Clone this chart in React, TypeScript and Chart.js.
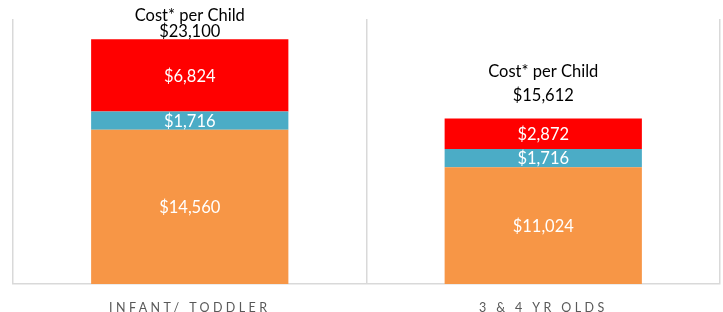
import React, { useEffect, useRef } from "react";
import { Chart, registerables } from "chart.js";

Chart.register(...registerables);

const categories = ["INFANT/ TODDLER", "3 & 4 YR OLDS"];
const baseCost = [14560, 11024];
const midCost = [1716, 1716];
const topCost = [6824, 2872];
const totalLabel = "Cost* per Child";
const yMax = 25000;

const fmt = (v: number) => "$" + v.toLocaleString("en-US");

const segmentLabels = {
  id: "segmentLabels",
  afterDatasetsDraw(chart: any) {
    const ctx = chart.ctx;
    ctx.save();
    ctx.letterSpacing = "0px";
    ctx.font = "16.5px Lato";
    ctx.fillStyle = "#ffffff";
    ctx.textAlign = "center";
    ctx.textBaseline = "middle";
    chart.data.datasets.forEach((ds: any, di: number) => {
      const meta = chart.getDatasetMeta(di);
      meta.data.forEach((el: any, i: number) => {
        const yc = (el.y + el.base) / 2;
        ctx.fillText(fmt(ds.data[i]), el.x, yc + 1);
      });
    });
    // totals above stacks
    const last = chart.getDatasetMeta(chart.data.datasets.length - 1);
    const offsets = [
      [-23, -7.5],
      [-46.5, -22.5],
    ];
    ctx.fillStyle = "#000000";
    last.data.forEach((el: any, i: number) => {
      let total = 0;
      chart.data.datasets.forEach((ds: any) => (total += ds.data[i]));
      ctx.fillText(totalLabel, el.x, el.y + offsets[i][0]);
      ctx.fillText(fmt(total), el.x, el.y + offsets[i][1]);
    });
    ctx.restore();
  },
};

const spacing = {
  id: "tickSpacing",
  beforeDraw(chart: any) {
    chart.ctx.letterSpacing = "3.4px";
  },
  beforeDatasetsDraw(chart: any) {
    chart.ctx.letterSpacing = "0px";
  },
};

export default function App() {
  const ref = useRef<HTMLCanvasElement>(null);
  useEffect(() => {
    const chart = new Chart(ref.current!, {
      type: "bar",
      data: {
        labels: categories,
        datasets: [
          { data: baseCost, backgroundColor: "#F79646" },
          { data: midCost, backgroundColor: "#4BACC6" },
          { data: topCost, backgroundColor: "#FF0000" },
        ],
      },
      options: {
        responsive: false,
        animation: false,
        layout: { padding: { left: 13, right: 3, top: 19, bottom: -19 } },
        datasets: { bar: { categoryPercentage: 1, barPercentage: 0.558 } },
        plugins: { legend: { display: false }, tooltip: { enabled: false } },
        scales: {
          x: {
            stacked: true,
            offset: true,
            grid: { offset: true, drawTicks: false, color: "#d9d9d9", lineWidth: 1.5 },
            border: { color: "#d9d9d9", width: 1.5 },
            ticks: { color: "#595959", font: { family: "Lato", size: 12.5 }, padding: 16 },
          },
          y: { stacked: true, display: false, min: 0, max: yMax },
        },
      },
      plugins: [spacing, segmentLabels],
    });
    return () => chart.destroy();
  }, []);
  return (
    <div style={{ position: "fixed", left: 0, top: 0, background: "#fff" }}>
      <canvas ref={ref} width={723} height={312} />
    </div>
  );
}
